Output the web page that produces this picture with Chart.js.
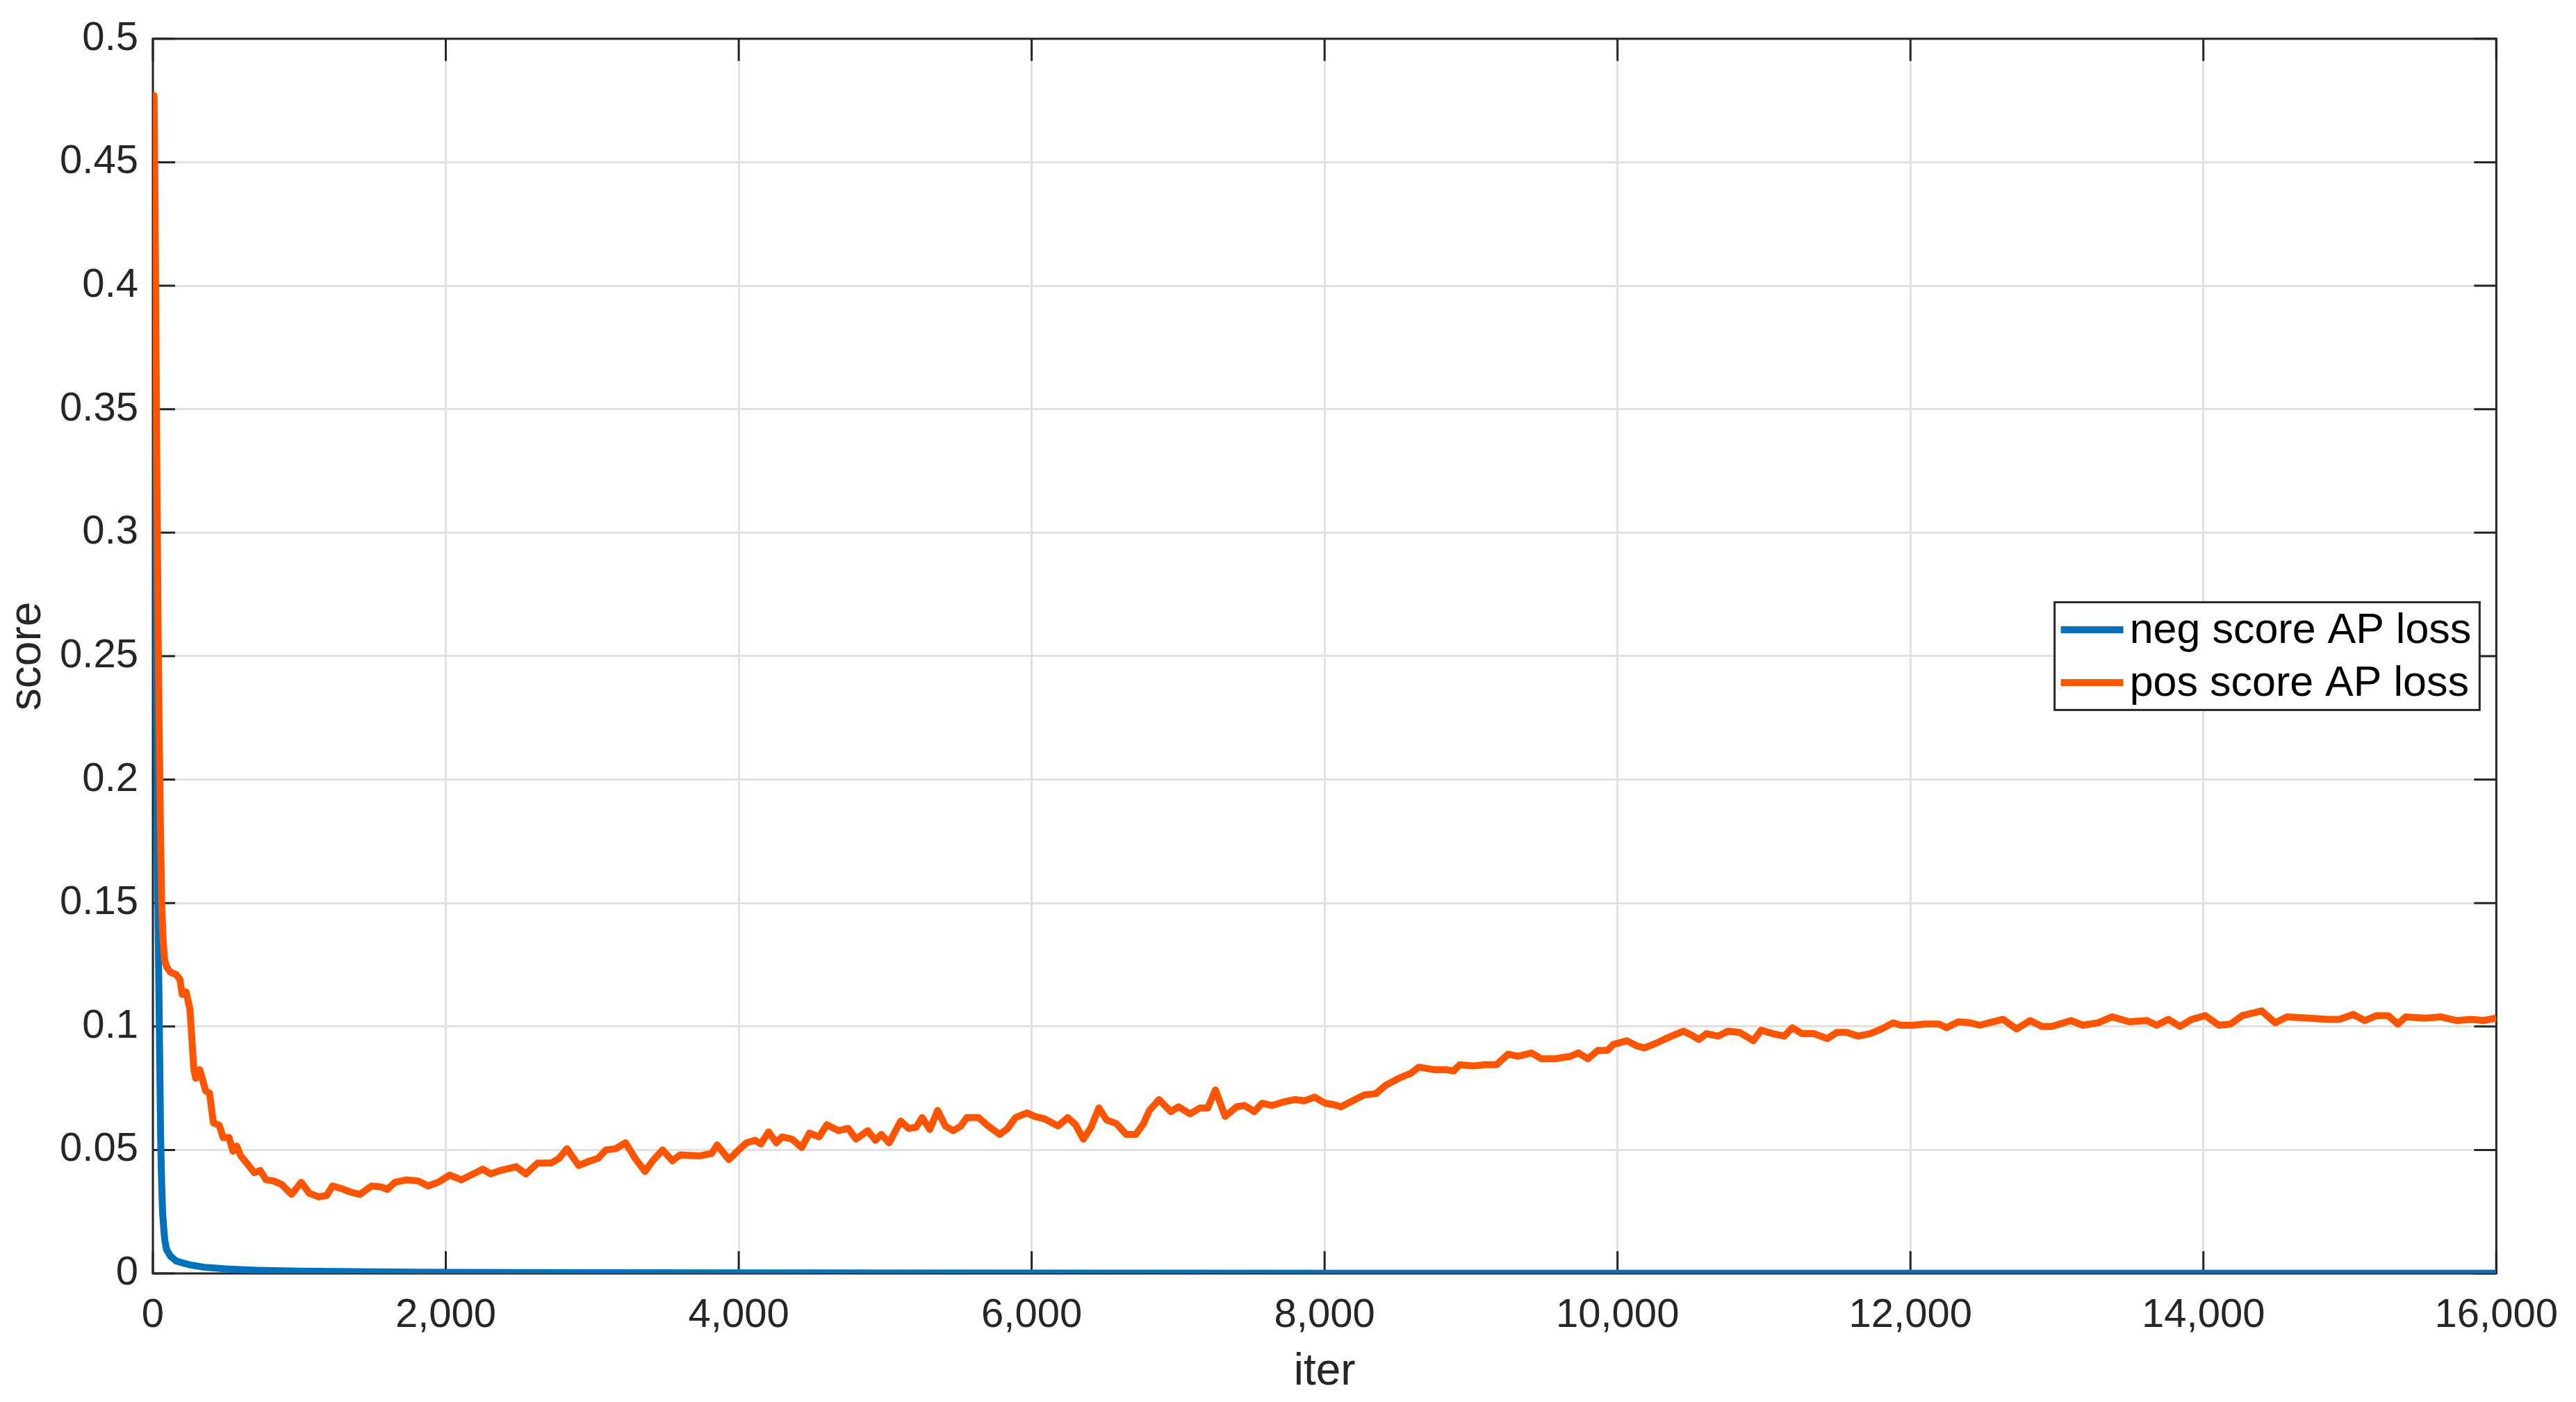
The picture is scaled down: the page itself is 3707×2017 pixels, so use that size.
<!DOCTYPE html>
<html>
<head>
<meta charset="utf-8">
<script src="https://cdn.jsdelivr.net/npm/chart.js@4.4.1/dist/chart.umd.min.js"></script>
<style>
  html, body { margin: 0; padding: 0; background: #fff; overflow: hidden; }
</style>
</head>
<body>
<canvas id="chart" width="3707" height="2017"></canvas>
<script>
// series
const seriesNames = ["neg score AP loss", "pos score AP loss"];
const seriesColors = ["#0072bd", "#ff5400"];

const negIter = [0, 6, 12, 18, 24, 30, 36, 42, 48, 53, 60, 67, 80, 93, 120, 160, 250, 350, 500, 700, 1000, 1500, 2000, 3000, 4000, 6000, 8000, 12000, 16000];
const negScore = [0.477, 0.43, 0.37, 0.31, 0.24, 0.18, 0.14, 0.11, 0.08, 0.055, 0.036, 0.024, 0.014, 0.0097, 0.007, 0.005, 0.0035, 0.0025, 0.0018, 0.0013, 0.0009, 0.0006, 0.0004, 0.0003, 0.0002, 0.00015, 0.0001, 0.0001, 0.0001];

const posIter = [
  0, 8, 14, 20, 28, 36, 44, 52, 60, 70, 80, 95, 120, 160, 185, 200, 227, 253, 280, 293,
  320, 360, 387, 413, 453, 480, 520, 547, 573, 600, 640, 693, 733, 773, 827, 880, 947, 1013, 1067, 1133,
  1187, 1227, 1280, 1347, 1413, 1493, 1560, 1600, 1653, 1733, 1813, 1880, 1947, 2027, 2107, 2187, 2253, 2307, 2373, 2480,
  2547, 2627, 2720, 2773, 2827, 2907, 2987, 3040, 3093, 3160, 3227, 3293, 3360, 3413, 3480, 3547, 3600, 3733, 3813, 3853,
  3933, 4000, 4053, 4111, 4151, 4204, 4257, 4297, 4363, 4430, 4483, 4549, 4602, 4682, 4748, 4801, 4881, 4934, 4973, 5027,
  5106, 5159, 5212, 5252, 5305, 5358, 5411, 5464, 5517, 5557, 5637, 5703, 5782, 5836, 5889, 5968, 6021, 6088, 6180, 6247,
  6300, 6353, 6406, 6459, 6512, 6578, 6645, 6711, 6764, 6804, 6870, 6950, 7003, 7082, 7149, 7202, 7255, 7321, 7401, 7454,
  7520, 7573, 7639, 7719, 7798, 7865, 7931, 8005, 8058, 8112, 8191, 8271, 8351, 8417, 8510, 8590, 8643, 8749, 8829, 8882,
  8922, 9015, 9094, 9174, 9254, 9320, 9413, 9480, 9572, 9678, 9732, 9798, 9865, 9931, 9971, 10064, 10130, 10183, 10263, 10316,
  10369, 10449, 10502, 10555, 10608, 10688, 10754, 10834, 10927, 10980, 11060, 11139, 11193, 11259, 11339, 11432, 11498, 11564, 11644, 11724,
  11803, 11883, 11936, 12016, 12096, 12194, 12247, 12327, 12406, 12473, 12539, 12632, 12725, 12818, 12898, 12964, 13097, 13177, 13283, 13376,
  13495, 13615, 13681, 13761, 13841, 13920, 14013, 14106, 14186, 14266, 14398, 14491, 14571, 14717, 14850, 14930, 15023, 15102, 15182, 15262,
  15328, 15381, 15514, 15620, 15726, 15833, 15912, 16000
];
const posScore = [
  0.477, 0.477, 0.44, 0.39, 0.32, 0.26, 0.215, 0.18, 0.15, 0.135, 0.127, 0.124, 0.122, 0.121, 0.119, 0.113, 0.114, 0.107, 0.0825, 0.079,
  0.0825, 0.074, 0.073, 0.061, 0.060, 0.055, 0.055, 0.0495, 0.0515, 0.0476, 0.0447, 0.0408, 0.0417, 0.0379, 0.0374, 0.036, 0.032, 0.0369, 0.0325, 0.031,
  0.0316, 0.0354, 0.0345, 0.033, 0.032, 0.0354, 0.035, 0.034, 0.0369, 0.0379, 0.0374, 0.0354, 0.0369, 0.0398, 0.0379, 0.0403, 0.0422, 0.0403, 0.0417, 0.0432,
  0.0403, 0.0447, 0.0447, 0.0466, 0.0505, 0.0437, 0.0456, 0.0466, 0.05, 0.0505, 0.0529, 0.0466, 0.0413, 0.0456, 0.05, 0.0456, 0.048, 0.0476, 0.0485, 0.052,
  0.0461, 0.05, 0.0529, 0.0539, 0.0524, 0.0573, 0.0529, 0.0553, 0.0544, 0.051, 0.0568, 0.0553, 0.0602, 0.0578, 0.0587, 0.0544, 0.0578, 0.0539, 0.0563, 0.0529,
  0.0617, 0.0587, 0.0592, 0.0631, 0.0583, 0.066, 0.0597, 0.0578, 0.0597, 0.0631, 0.0631, 0.0597, 0.0563, 0.0587, 0.0631, 0.065, 0.0636, 0.0626, 0.0597, 0.0631,
  0.0602, 0.0544, 0.0592, 0.067, 0.0621, 0.0607, 0.0563, 0.0563, 0.0607, 0.066, 0.0704, 0.0655, 0.0675, 0.0646, 0.067, 0.067, 0.0743, 0.0636, 0.0675, 0.068,
  0.0655, 0.0689, 0.068, 0.0694, 0.0704, 0.0699, 0.0714, 0.0689, 0.0684, 0.0675, 0.0699, 0.0723, 0.0728, 0.0762, 0.0791, 0.0811, 0.0835, 0.0825, 0.0825, 0.082,
  0.0845, 0.084, 0.0845, 0.0845, 0.0888, 0.0879, 0.0893, 0.0869, 0.0869, 0.0879, 0.0893, 0.0869, 0.0903, 0.0903, 0.0927, 0.0942, 0.0922, 0.0913, 0.0932, 0.0947,
  0.0961, 0.0981, 0.0966, 0.0947, 0.0971, 0.0961, 0.0981, 0.0976, 0.0942, 0.0985, 0.0971, 0.0961, 0.0995, 0.0971, 0.0971, 0.0951, 0.0976, 0.0976, 0.0961, 0.0971,
  0.099, 0.1015, 0.1005, 0.1005, 0.101, 0.101, 0.0995, 0.1019, 0.1015, 0.1005, 0.1015, 0.1029, 0.099, 0.1024, 0.1, 0.1, 0.1024, 0.1005, 0.1015, 0.1039,
  0.1019, 0.1024, 0.1005, 0.1029, 0.1, 0.1029, 0.1044, 0.1005, 0.101, 0.1044, 0.1063, 0.1015, 0.1039, 0.1034, 0.1029, 0.1029, 0.1049, 0.1024, 0.1044, 0.1044,
  0.101, 0.1039, 0.1034, 0.1039, 0.1024, 0.1029, 0.1024, 0.1034
];

const FONT = '"Liberation Sans", Arial, Helvetica, sans-serif';
const INK = '#262626';
const LINE_W = 10;

function toPoints(xs, ys) {
  return xs.map((x, i) => ({ x: x, y: ys[i] }));
}

// matlab style box with inward ticks on all four sides
const boxPlugin = {
  id: 'box',
  beforeDatasetsDraw(chart) {
    const { ctx, chartArea: a, scales } = chart;
    const tl = 32;
    ctx.save();
    ctx.strokeStyle = INK;
    ctx.lineWidth = 3;
    ctx.beginPath();
    scales.x.ticks.forEach(t => {
      const px = scales.x.getPixelForValue(t.value);
      ctx.moveTo(px, a.bottom); ctx.lineTo(px, a.bottom - tl);
      ctx.moveTo(px, a.top); ctx.lineTo(px, a.top + tl);
    });
    scales.y.ticks.forEach(t => {
      const py = scales.y.getPixelForValue(t.value);
      ctx.moveTo(a.left, py); ctx.lineTo(a.left + tl, py);
      ctx.moveTo(a.right, py); ctx.lineTo(a.right - tl, py);
    });
    ctx.stroke();
    ctx.strokeRect(a.left, a.top, a.right - a.left, a.bottom - a.top);
    ctx.restore();
  },
  afterDraw(chart) {
    // legend, "east" location like matlab
    const { ctx, chartArea: a } = chart;
    const ds = chart.data.datasets;
    ctx.save();
    ctx.font = '61px ' + FONT;
    const textW = Math.max(...ds.map(d => ctx.measureText(d.label).width));
    const lineLen = 90, pad = 9, rowH = 76;
    const boxW = pad + lineLen + pad + textW + 12;
    const boxH = 155;
    const right = a.right - 24;
    const left = right - boxW;
    const top = (a.top + a.bottom) / 2 - boxH / 2;
    ctx.fillStyle = '#fff';
    ctx.fillRect(left, top, boxW, boxH);
    ctx.strokeStyle = INK;
    ctx.lineWidth = 3;
    ctx.strokeRect(left, top, boxW, boxH);
    ctx.textBaseline = 'middle';
    ctx.textAlign = 'left';
    ds.forEach((d, i) => {
      const cy = top + boxH / 2 + (i - 0.5) * rowH;
      ctx.strokeStyle = d.borderColor;
      ctx.lineWidth = LINE_W;
      ctx.beginPath();
      ctx.moveTo(left + pad, cy);
      ctx.lineTo(left + pad + lineLen, cy);
      ctx.stroke();
      ctx.fillStyle = '#000';
      ctx.fillText(d.label, left + pad + lineLen + pad, cy + 2);
    });
    ctx.restore();
  }
};

new Chart(document.getElementById('chart'), {
  type: 'line',
  data: {
    datasets: [
      {
        label: seriesNames[0],
        data: toPoints(negIter, negScore),
        borderColor: seriesColors[0],
        borderWidth: LINE_W,
        pointRadius: 0,
        tension: 0,
        order: 1,
      },
      {
        label: seriesNames[1],
        data: toPoints(posIter, posScore),
        borderColor: seriesColors[1],
        borderWidth: LINE_W,
        pointRadius: 0,
        tension: 0,
        borderJoinStyle: 'round',
        order: 0,
      },
    ],
  },
  options: {
    responsive: false,
    devicePixelRatio: 1,
    animation: false,
    layout: { padding: { top: 54, right: 109, left: 0, bottom: 0 } },
    plugins: {
      legend: { display: false },
      tooltip: { enabled: false },
    },
    scales: {
      x: {
        type: 'linear',
        min: 0,
        max: 16000,
        afterFit: (s) => { s.height = 185; },
        ticks: {
          stepSize: 2000,
          padding: 26,
          color: INK,
          font: { family: FONT, size: 58 },
          maxRotation: 0,
          callback: (v) => v.toLocaleString('en-US'),
        },
        grid: { color: '#e1e1e1', lineWidth: 3, drawTicks: false },
        border: { display: false },
        title: {
          display: true,
          text: 'iter',
          color: INK,
          font: { family: FONT, size: 64 },
          padding: { top: 0, bottom: 4 },
        },
      },
      y: {
        min: 0,
        max: 0.5,
        afterFit: (s) => { s.width = 220; },
        ticks: {
          stepSize: 0.05,
          padding: 21,
          color: INK,
          font: { family: FONT, size: 58 },
          callback: (v) => String(Number(v.toFixed(2))),
        },
        grid: { color: '#e1e1e1', lineWidth: 3, drawTicks: false },
        border: { display: false },
        title: {
          display: true,
          text: 'score',
          color: INK,
          font: { family: FONT, size: 64 },
          padding: { top: 2, bottom: 0 },
        },
      },
    },
  },
  plugins: [boxPlugin],
});
</script>
</body>
</html>
